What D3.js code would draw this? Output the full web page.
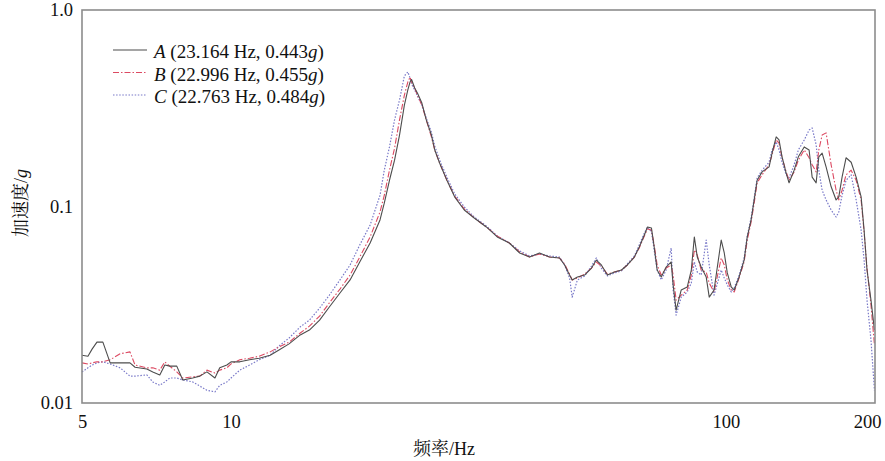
<!DOCTYPE html>
<html>
<head>
<meta charset="utf-8">
<script src="https://cdn.jsdelivr.net/npm/d3@7"></script>
<style>
  body { margin: 0; background: #fff; }
  svg { display: block; }
</style>
</head>
<body>
<div id="chart"></div>
<script>
// frequency grid (Hz), shared by the three measurements
const freq = [
  5.00, 5.14, 5.24, 5.36, 5.51, 5.70, 5.97, 6.25, 6.40, 6.76,
  6.95, 7.18, 7.35, 7.52, 7.77, 7.99, 8.37, 8.65, 8.94, 9.28,
  9.49, 9.81, 10.0, 10.42, 10.9, 11.4, 12.0, 12.5, 13.1, 13.8,
  14.4, 15.1, 15.8, 16.6, 17.4, 18.2, 19.1, 20.0, 20.4, 20.9,
  21.4, 21.9, 22.4, 22.763, 22.996, 23.164, 23.5, 23.8, 24.3, 24.8,
  25.4, 25.8, 26.4, 27.3, 28.3, 29.6, 31.0, 32.8, 34.5, 36.5,
  38.3, 40.1, 42.0, 44.0, 46.1, 47.2, 48.3, 48.9, 50.1, 51.8,
  53.5, 54.7, 56.0, 57.6, 59.5, 61.5, 63.2, 65.3, 66.8, 68.4,
  69.4, 70.7, 71.6, 72.6, 74.0, 75.7, 77.5, 78.2, 79.3, 81.2,
  83.5, 85.1, 86.3, 87.5, 89.1, 91.2, 92.5, 94.6, 97.8, 99.2,
  100.6, 102.5, 103.9, 106.3, 108.8, 110.4, 112.4, 114.0, 115.6, 118.3,
  122.2, 123.9, 126.3, 128.0, 129.8, 132.3, 134.1, 137.3, 140.0, 143.9,
  147.2, 149.3, 152.1, 154.0, 156.4, 159.3, 163.1, 166.9, 169.0, 171.6,
  174.8, 179.0, 183.2, 187.5, 190.1, 192.7, 196.3, 199.5
];

// acceleration (g)
const accA = [
  0.0175, 0.0173, 0.0188, 0.0204, 0.0204, 0.0160, 0.0160, 0.0160, 0.0152, 0.0149,
  0.0144, 0.0139, 0.0156, 0.0154, 0.0154, 0.0131, 0.0134, 0.0137, 0.0144, 0.0134,
  0.0151, 0.0156, 0.0162, 0.0162, 0.0166, 0.0169, 0.0175, 0.0186, 0.0200, 0.0222,
  0.0235, 0.0264, 0.0308, 0.0363, 0.0423, 0.0522, 0.0652, 0.0854, 0.104, 0.136,
  0.172, 0.231, 0.328, 0.392, 0.430, 0.443, 0.401, 0.378, 0.336, 0.276,
  0.231, 0.194, 0.166, 0.136, 0.112, 0.0960, 0.0874, 0.0787, 0.0700, 0.0652,
  0.0580, 0.0553, 0.0580, 0.0553, 0.0547, 0.0504, 0.0448, 0.0423, 0.0438, 0.0448,
  0.0486, 0.0534, 0.0504, 0.0448, 0.0464, 0.0475, 0.0504, 0.0553, 0.0622, 0.0716,
  0.0787, 0.0777, 0.0622, 0.0475, 0.0438, 0.0492, 0.0522, 0.0399, 0.0297, 0.0376,
  0.0389, 0.0475, 0.0700, 0.0553, 0.0492, 0.0438, 0.0346, 0.0376, 0.0675, 0.0580,
  0.0459, 0.0389, 0.0376, 0.0438, 0.0534, 0.0700, 0.0854, 0.108, 0.136, 0.150,
  0.159, 0.187, 0.226, 0.218, 0.179, 0.148, 0.132, 0.153, 0.179, 0.201,
  0.194, 0.141, 0.132, 0.179, 0.187, 0.159, 0.126, 0.108, 0.112, 0.141,
  0.177, 0.168, 0.141, 0.112, 0.0759, 0.0475, 0.0334, 0.0235
];
const accB = [
  0.0160, 0.0158, 0.0160, 0.0162, 0.0162, 0.0166, 0.0178, 0.0182, 0.0156, 0.0151,
  0.0151, 0.0147, 0.0162, 0.0154, 0.0144, 0.0134, 0.0136, 0.0137, 0.0147, 0.0142,
  0.0147, 0.0151, 0.0158, 0.0166, 0.0169, 0.0173, 0.0182, 0.0193, 0.0204, 0.0227,
  0.0246, 0.0277, 0.0323, 0.0380, 0.0448, 0.0553, 0.0700, 0.0938, 0.114, 0.153,
  0.198, 0.276, 0.369, 0.430, 0.455, 0.430, 0.401, 0.369, 0.328, 0.276,
  0.226, 0.194, 0.166, 0.136, 0.113, 0.0971, 0.0874, 0.0787, 0.0708, 0.0652,
  0.0587, 0.0553, 0.0573, 0.0553, 0.0547, 0.0510, 0.0453, 0.0423, 0.0433, 0.0453,
  0.0486, 0.0522, 0.0498, 0.0453, 0.0464, 0.0475, 0.0504, 0.0553, 0.0615, 0.0708,
  0.0768, 0.0759, 0.0637, 0.0504, 0.0448, 0.0486, 0.0504, 0.0448, 0.0334, 0.0354,
  0.0376, 0.0448, 0.0601, 0.0566, 0.0475, 0.0464, 0.0408, 0.0367, 0.0547, 0.0504,
  0.0423, 0.0376, 0.0367, 0.0433, 0.0522, 0.0675, 0.0834, 0.104, 0.132, 0.145,
  0.163, 0.183, 0.218, 0.210, 0.177, 0.150, 0.136, 0.150, 0.172, 0.194,
  0.177, 0.163, 0.150, 0.194, 0.231, 0.237, 0.163, 0.121, 0.108, 0.121,
  0.145, 0.153, 0.136, 0.108, 0.0742, 0.0486, 0.0315, 0.0197
];
const accC = [
  0.0144, 0.0151, 0.0156, 0.0160, 0.0162, 0.0158, 0.0151, 0.0137, 0.0137, 0.0139,
  0.0128, 0.0123, 0.0128, 0.0134, 0.0134, 0.0131, 0.0128, 0.0122, 0.0116, 0.0114,
  0.0123, 0.0128, 0.0134, 0.0147, 0.0156, 0.0166, 0.0175, 0.0195, 0.0214, 0.0244,
  0.0264, 0.0304, 0.0354, 0.0423, 0.0504, 0.0637, 0.0805, 0.114, 0.153, 0.201,
  0.276, 0.348, 0.462, 0.484, 0.451, 0.420, 0.392, 0.365, 0.328, 0.282,
  0.239, 0.203, 0.172, 0.141, 0.116, 0.0994, 0.0884, 0.0796, 0.0708, 0.0652,
  0.0594, 0.0560, 0.0573, 0.0560, 0.0553, 0.0504, 0.0433, 0.0346, 0.0423, 0.0443,
  0.0498, 0.0547, 0.0486, 0.0443, 0.0459, 0.0470, 0.0510, 0.0560, 0.0637, 0.0733,
  0.0787, 0.0742, 0.0601, 0.0475, 0.0423, 0.0475, 0.0615, 0.0376, 0.0280, 0.0346,
  0.0367, 0.0408, 0.0522, 0.0464, 0.0448, 0.0675, 0.0504, 0.0354, 0.0475, 0.0433,
  0.0399, 0.0367, 0.0385, 0.0448, 0.0547, 0.0708, 0.0874, 0.110, 0.140, 0.153,
  0.168, 0.194, 0.213, 0.194, 0.168, 0.145, 0.140, 0.163, 0.194, 0.218,
  0.245, 0.251, 0.206, 0.153, 0.121, 0.108, 0.0960, 0.0884, 0.0938, 0.114,
  0.136, 0.145, 0.108, 0.0759, 0.0534, 0.0334, 0.0209, 0.0116
];

const seriesNames = ["A", "B", "C"];
const legendInfo = ["(23.164 Hz, 0.443", "(22.996 Hz, 0.455", "(22.763 Hz, 0.484"];
const xTicks = [5, 10, 100, 200];
const yTicks = [0.01, 0.1, 1.0];
const yTickLabels = ["0.01", "0.1", "1.0"];

const W = 885, H = 461;
const margin = { top: 10, right: 10, bottom: 58, left: 82 };
const width = W - margin.left - margin.right,
      height = H - margin.top - margin.bottom;
const FONT = "'Liberation Serif', 'Times New Roman', 'Noto Serif CJK SC', 'Noto Sans CJK SC', serif";

const svg = d3.select("#chart").append("svg")
  .attr("width", W)
  .attr("height", H)
  .style("font-family", FONT);

const g = svg.append("g")
  .attr("transform", `translate(${margin.left},${margin.top})`);

const x = d3.scaleLog().domain([5, 200]).range([0, width]);
const y = d3.scaleLog().domain([0.01, 1]).range([height, 0]);

const styles = [
  { color: "#4d4d4d", dash: null, width: 1.1 },
  { color: "#dc4a62", dash: "6,2,1.5,2", width: 1.1 },
  { color: "#7878c8", dash: "1.5,1.6", width: 1.2 }
];
const series = [accA, accB, accC].map((vals, i) => ({
  name: seriesNames[i],
  values: vals.map((v, j) => ({ f: freq[j], a: v }))
}));

const line = d3.line()
  .x(d => x(d.f))
  .y(d => y(d.a));

// draw C first so the solid A line sits on top
[2, 1, 0].forEach(i => {
  g.append("path")
    .datum(series[i].values)
    .attr("fill", "none")
    .attr("stroke", styles[i].color)
    .attr("stroke-width", styles[i].width)
    .attr("stroke-dasharray", styles[i].dash)
    .attr("stroke-linejoin", "round")
    .attr("d", line);
});

// frame
g.append("rect")
  .attr("width", width)
  .attr("height", height)
  .attr("fill", "none")
  .attr("stroke", "#8c8c8c")
  .attr("stroke-width", 1.6);

// axes
const xAxis = g.append("g")
  .attr("transform", `translate(0,${height})`)
  .call(d3.axisBottom(x).tickValues(xTicks).tickFormat(d3.format("d")).tickSize(0).tickPadding(12));
const yAxis = g.append("g")
  .call(d3.axisLeft(y).tickValues(yTicks).tickFormat((d, i) => yTickLabels[i]).tickSize(0).tickPadding(9));

[xAxis, yAxis].forEach(ax => {
  ax.select(".domain").remove();
  ax.selectAll("text")
    .attr("font-family", FONT)
    .attr("font-size", "18.5px")
    .attr("fill", "#111");
});
// keep "200" inside the picture
xAxis.selectAll(".tick text").filter(d => d === 200).attr("dx", "-8px");

// axis titles
svg.append("text")
  .attr("x", 444)
  .attr("y", 455)
  .attr("text-anchor", "middle")
  .attr("font-size", "18px")
  .attr("fill", "#111")
  .text("频率/Hz");

const yTitle = svg.append("text")
  .attr("transform", "translate(27,203) rotate(-90)")
  .attr("text-anchor", "middle")
  .attr("font-size", "18px")
  .attr("fill", "#111");
yTitle.append("tspan").text("加速度/");
yTitle.append("tspan").attr("font-style", "italic").text("g");

// legend
const legend = svg.append("g");
series.forEach((s, i) => {
  const by = 58 + i * 22.5;
  legend.append("line")
    .attr("x1", 113).attr("x2", 147)
    .attr("y1", by - 8).attr("y2", by - 8)
    .attr("stroke", styles[i].color)
    .attr("stroke-width", styles[i].width)
    .attr("stroke-dasharray", styles[i].dash);
  const t = legend.append("text")
    .attr("x", 154)
    .attr("y", by)
    .attr("font-size", "19px")
    .attr("fill", "#111");
  t.append("tspan").attr("font-style", "italic").text(s.name);
  t.append("tspan").text(" " + legendInfo[i]);
  t.append("tspan").attr("font-style", "italic").text("g");
  t.append("tspan").text(")");
});
</script>
</body>
</html>
